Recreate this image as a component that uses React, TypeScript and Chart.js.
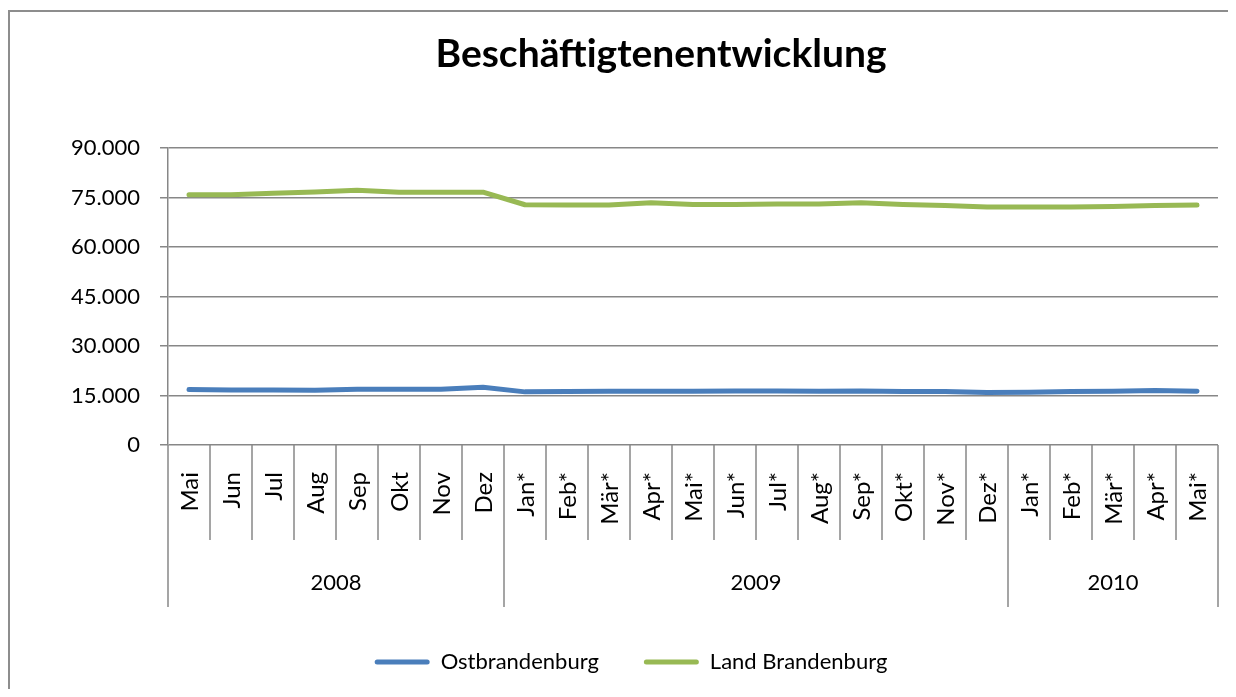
import React, { useEffect, useRef } from "react";
import { Chart, registerables } from "chart.js";

Chart.register(...registerables);

const chartTitle = "Beschäftigtenentwicklung";
const monthLabels = [
  "Mai", "Jun", "Jul", "Aug", "Sep", "Okt", "Nov", "Dez",
  "Jan*", "Feb*", "Mär*", "Apr*", "Mai*", "Jun*", "Jul*", "Aug*", "Sep*", "Okt*", "Nov*", "Dez*",
  "Jan*", "Feb*", "Mär*", "Apr*", "Mai*",
];
const yearLabels = ["2008", "2009", "2010"];
const yearMonthCounts = [8, 12, 5];

const ostbrandenburg = [
  16800, 16700, 16700, 16600, 16900, 16900, 16900, 17500,
  16100, 16200, 16300, 16300, 16300, 16400, 16400, 16300, 16400, 16200, 16200, 15900,
  16000, 16200, 16300, 16500, 16300,
];
const landBrandenburg = [
  75800, 75800, 76300, 76700, 77200, 76600, 76600, 76600,
  72800, 72750, 72700, 73400, 72900, 72900, 73000, 73000, 73400, 72900, 72600, 72100,
  72100, 72100, 72300, 72600, 72700,
];
const seriesNames = ["Ostbrandenburg", "Land Brandenburg"];
const seriesColors = ["#4A7EBB", "#98B954"];

const yMin = 0;
const yMax = 90000;
const yStep = 15000;

const GRID = "#878787";
const FONT = "Lato";

const formatDe = (v: number) => String(Math.round(v)).replace(/\B(?=(\d{3})+(?!\d))/g, ".");

const axisPlugin = {
  id: "multiLevelAxis",
  afterDraw(chart: any) {
    const ctx = chart.ctx;
    const xs = chart.scales.x;
    const top = xs.top;
    const n = monthLabels.length;
    const w = xs.getPixelForValue(1) - xs.getPixelForValue(0);
    const boundary = (i: number) =>
      i < n ? xs.getPixelForValue(i) - w / 2 : xs.getPixelForValue(n - 1) + w / 2;
    const yearBounds = new Set<number>();
    let acc = 0;
    yearBounds.add(0);
    yearMonthCounts.forEach((c) => {
      acc += c;
      yearBounds.add(acc);
    });
    ctx.save();
    ctx.strokeStyle = GRID;
    ctx.lineWidth = 1.5;
    for (let i = 0; i <= n; i++) {
      const px = Math.round(boundary(i));
      const len = yearBounds.has(i) ? 162 : 95;
      ctx.beginPath();
      ctx.moveTo(px, top);
      ctx.lineTo(px, top + len);
      ctx.stroke();
    }
    ctx.fillStyle = "#000";
    ctx.font = `24px ${FONT}`;
    monthLabels.forEach((m, i) => {
      ctx.save();
      ctx.translate(xs.getPixelForValue(i) + 1, top + 27);
      ctx.rotate(-Math.PI / 2);
      ctx.textAlign = "right";
      ctx.textBaseline = "middle";
      ctx.fillText(m, 0, 0);
      ctx.restore();
    });
    ctx.font = `22px ${FONT}`;
    ctx.textAlign = "center";
    ctx.textBaseline = "middle";
    let start = 0;
    yearLabels.forEach((y, k) => {
      const end = start + yearMonthCounts[k];
      const cx = (boundary(start) + boundary(end)) / 2;
      ctx.fillText(y, cx, top + 138);
      start = end;
    });
    // title
    ctx.font = `bold 39px ${FONT}`;
    ctx.textAlign = "center";
    ctx.textBaseline = "alphabetic";
    ctx.fillText(chartTitle, 651, 55);
    ctx.restore();
  },
};

export default function App() {
  const ref = useRef<HTMLCanvasElement | null>(null);
  useEffect(() => {
    document.documentElement.style.overflow = "hidden";
    document.body.style.overflow = "hidden";
    const canvas = ref.current!;
    const chart = new Chart(canvas, {
      type: "line",
      data: {
        labels: monthLabels,
        datasets: [
          {
            label: seriesNames[0],
            data: ostbrandenburg,
            borderColor: seriesColors[0],
            backgroundColor: seriesColors[0],
            borderWidth: 5,
            pointRadius: 0,
            borderCapStyle: "round",
            borderJoinStyle: "round",
            tension: 0,
          },
          {
            label: seriesNames[1],
            data: landBrandenburg,
            borderColor: seriesColors[1],
            backgroundColor: seriesColors[1],
            borderWidth: 5,
            pointRadius: 0,
            borderCapStyle: "round",
            borderJoinStyle: "round",
            tension: 0,
          },
        ],
      },
      options: {
        responsive: false,
        animation: false,
        devicePixelRatio: 1,
        layout: { padding: { top: 136, left: 34, right: 18, bottom: 6 } },
        scales: {
          x: {
            type: "category",
            offset: true,
            grid: { display: false },
            border: { display: false },
            ticks: { display: false },
            afterFit: (s: any) => {
              s.height = 161;
            },
          },
          y: {
            min: yMin,
            max: yMax,
            ticks: {
              stepSize: yStep,
              padding: 20,
              color: "#000",
              font: { family: FONT, size: 22 },
              callback: (v: any) => formatDe(Number(v)),
            },
            grid: { color: GRID, lineWidth: 1.5, tickLength: 8 },
            border: { color: GRID, width: 1.5 },
            afterFit: (s: any) => {
              s.width = 124;
            },
          },
        },
        plugins: {
          title: { display: false },
          tooltip: { enabled: false },
          legend: {
            position: "bottom",
            labels: {
              boxWidth: 55,
              boxHeight: 5,
              padding: 45,
              color: "#000",
              font: { family: FONT, size: 22 },
              generateLabels: (c: any) =>
                c.data.datasets.map((ds: any, i: number) => ({
                  text: ds.label,
                  fillStyle: ds.borderColor,
                  strokeStyle: ds.borderColor,
                  lineWidth: 0,
                  hidden: false,
                  datasetIndex: i,
                  borderRadius: 2.5,
                  fontColor: "#000",
                })),
            },
          },
        },
      },
      plugins: [axisPlugin],
    });
    return () => chart.destroy();
  }, []);

  return (
    <div
      style={{
        position: "relative",
        width: 1240,
        height: 679,
        marginTop: 2,
        borderLeft: "2px solid #8d8d8d",
        borderTop: "2px solid #8d8d8d",
        boxSizing: "border-box",
        background: "#fff",
      }}
    >
      <canvas ref={ref} width={1226} height={677} style={{ display: "block", width: 1226, height: 677 }} />
    </div>
  );
}
